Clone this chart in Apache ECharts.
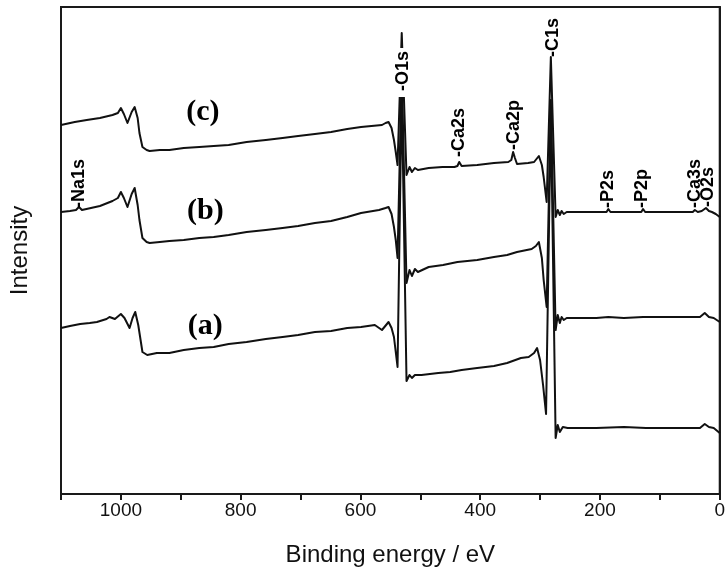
<!DOCTYPE html>
<html>
<head>
<meta charset="utf-8">
<script src="https://cdn.jsdelivr.net/npm/echarts/dist/echarts.min.js"></script>
<style>
  html, body { margin: 0; padding: 0; background: #fff; }
  #chart { width: 728px; height: 572px; }
</style>
</head>
<body>
<div id="chart"></div>
<script>
// XPS survey spectra, offset vertically: [binding energy (eV), intensity (a.u.)]
const spectrumA = [
  [1100, 166], [1085, 168], [1068, 170], [1052, 171], [1040, 172], [1024, 175],
  [1019, 177], [1010, 175], [1000, 180], [994, 176], [985.5, 166], [980.5, 176],
  [976, 182], [971, 169], [964, 142], [956, 139], [940, 141], [919, 141],
  [895, 144], [869, 146], [845, 147], [820, 150], [790, 152], [758, 155],
  [730, 157], [704, 159], [676, 162], [649, 163], [622, 166], [599, 167],
  [576, 169], [564, 164], [553, 172], [548, 166], [544, 157], [541, 142],
  [538, 127], [531, 404], [523, 113], [518, 119], [514, 116], [509, 119],
  [498, 119], [470, 121], [450, 122], [431, 124], [405, 126], [377, 128],
  [355, 131], [332, 136], [319, 137], [310, 141], [305, 146], [300, 134],
  [295, 109], [290, 80], [282, 384], [274, 56], [270.5, 69], [267, 62],
  [262, 67], [254, 66], [230, 66], [206, 66], [160, 67], [123, 66],
  [80, 66], [33, 66], [25, 70], [18, 67], [10, 66], [0, 61]
];

const spectrumB = [
  [1100, 282], [1085, 283], [1075, 284], [1070, 287], [1065, 284], [1050, 286],
  [1035, 288], [1014, 293], [1005, 296], [1000, 302], [995, 296], [989, 287],
  [982, 300], [977, 306], [972, 289], [969, 274], [964, 256], [957, 252],
  [952, 251], [935, 252], [919, 253], [895, 254], [869, 256], [845, 257],
  [820, 259], [790, 262], [758, 264], [730, 266], [704, 268], [676, 271],
  [649, 273], [622, 277], [599, 281], [569, 284], [558, 286], [553, 287],
  [548, 280], [544, 267], [541, 254], [538, 236], [531, 424], [523, 211],
  [518, 224], [514, 218], [509, 225], [504, 222], [486, 227], [462, 229],
  [438, 232], [405, 234], [377, 237], [355, 239], [338.5, 242], [314, 245],
  [307, 248], [302, 252], [297, 236], [294, 214], [289, 187], [282, 394],
  [274, 164], [270.5, 179], [267, 171], [264, 177], [260.5, 174], [255.5, 176],
  [230, 176], [206, 176], [186, 177], [160, 176], [128, 177], [100, 177],
  [73, 177], [33, 177], [25, 181], [18, 177], [10, 176], [0, 172]
];

const spectrumC = [
  [1100, 369], [1077, 372], [1057, 374], [1035, 376], [1014, 379], [1005, 381],
  [1000, 386], [995, 380], [989, 371], [982, 382], [977, 387], [972, 376],
  [969, 361], [964, 347], [957, 344], [952, 343], [935, 344], [919, 344],
  [895, 346], [869, 347], [845, 348], [820, 349], [790, 352], [758, 354],
  [730, 356], [704, 358], [676, 360], [649, 362], [622, 365], [599, 367],
  [564, 369], [558, 371], [553, 372], [548, 366], [544, 354], [541, 342],
  [538, 329], [531, 461], [523, 319], [518, 327], [514, 322], [509, 326],
  [504, 324], [486, 326], [463, 327], [443, 327], [438, 328], [435, 332],
  [431, 328], [428, 327], [405, 329], [377, 331], [353, 332], [348, 334],
  [345, 342], [342, 336], [338.5, 330], [320, 331], [310, 332], [302, 338],
  [297, 329], [294, 317], [289, 292], [282, 437], [274, 277], [270.5, 284],
  [267, 279], [264, 283], [260.5, 280], [255.5, 282], [222, 282], [189, 282],
  [186, 285], [182.5, 282], [139, 282], [131, 282], [128, 285], [124.5, 282],
  [90, 282], [45, 282], [41.5, 284], [36.6, 282], [30, 283], [23, 286],
  [18, 283], [13, 282], [6.6, 280], [0, 277]
];

// Sample tags and where they sit (eV, a.u.)
const sampleTags = ['(a)', '(b)', '(c)'];
const sampleTagAt = [[859, 168], [859, 283], [863, 382]];

// Peak assignments and the point each marker starts from (eV, a.u.)
const peakNames = ['Na1s', 'O1s', 'Ca2s', 'Ca2p', 'C1s', 'P2s', 'P2p', 'Ca3s', 'O2s'];
const peakAt = [
  [1070, 286], [529, 397], [435, 337], [343, 344], [279, 437],
  [186, 286], [129, 286], [41.5, 286], [20, 287]
];

// Binding-energy axis
const energyMin = 0;
const energyMax = 1100;
const energyStep = 100;
const labelledEvery = 200;
const intensityMax = 487;

const sans = '"Liberation Sans", Arial, sans-serif';
const serif = '"Liberation Serif", "Times New Roman", serif';
const ink = '#000';

const chart = echarts.init(document.getElementById('chart'), null, { renderer: 'canvas' });

function spectrumSeries(name, data) {
  return {
    name: name,
    type: 'line',
    data: data,
    showSymbol: false,
    symbol: 'none',
    smooth: false,
    clip: false,
    lineStyle: { color: '#111', width: 2, join: 'round' },
    z: 3
  };
}

// Invisible anchors carrying text annotations
function annotationSeries(name, data, label) {
  return {
    name: name,
    type: 'scatter',
    symbolSize: 0,
    z: 10,
    silent: true,
    itemStyle: { opacity: 1 },
    data: data,
    label: Object.assign({ show: true, position: 'inside', color: ink, opacity: 1, textBorderWidth: 0 }, label)
  };
}

chart.setOption({
  animation: false,
  backgroundColor: '#fff',
  grid: {
    left: 61, right: 4, top: 7, bottom: 78,
    show: true, borderColor: '#1a1a1a', borderWidth: 2, backgroundColor: 'transparent'
  },
  xAxis: {
    type: 'value',
    inverse: true,
    min: energyMin,
    max: energyMax,
    interval: energyStep,
    name: 'Binding energy / eV',
    nameLocation: 'middle',
    nameGap: 49,
    nameTextStyle: { fontFamily: sans, fontSize: 24, color: '#111' },
    axisLine: { show: true, lineStyle: { color: '#1a1a1a', width: 2 } },
    axisTick: { show: true, inside: false, length: 6, lineStyle: { color: '#1a1a1a', width: 2 } },
    axisLabel: {
      margin: 7,
      fontFamily: sans,
      fontSize: 19,
      color: '#111',
      formatter: v => (v % labelledEvery === 0 ? String(v) : '')
    },
    splitLine: { show: false }
  },
  yAxis: {
    type: 'value',
    min: 0,
    max: intensityMax,
    name: 'Intensity',
    nameLocation: 'middle',
    nameGap: 29,
    nameTextStyle: { fontFamily: sans, fontSize: 24, color: '#111' },
    axisLine: { show: true, lineStyle: { color: '#1a1a1a', width: 2 } },
    axisTick: { show: false },
    axisLabel: { show: false },
    splitLine: { show: false }
  },
  series: [
    spectrumSeries('a', spectrumA),
    spectrumSeries('b', spectrumB),
    spectrumSeries('c', spectrumC),
    annotationSeries('peaks',
      peakAt.map((p, i) => {
        const item = { value: p, name: peakNames[i] };
        if (peakNames[i] === 'O1s') {
          item.label = { backgroundColor: '#fff', padding: [0, 3, 0, 6] };
        }
        return item;
      }),
      {
        rotate: 90,
        align: 'left',
        verticalAlign: 'middle',
        fontFamily: sans,
        fontSize: 18,
        fontWeight: 'bold',
        formatter: p => '-' + p.name
      }
    ),
    annotationSeries('tags',
      sampleTagAt.map((p, i) => ({ value: p, name: sampleTags[i] })),
      {
        align: 'center',
        verticalAlign: 'middle',
        fontFamily: serif,
        fontWeight: 'bold',
        fontSize: 30,
        formatter: p => p.name
      }
    )
  ]
});
</script>
</body>
</html>
